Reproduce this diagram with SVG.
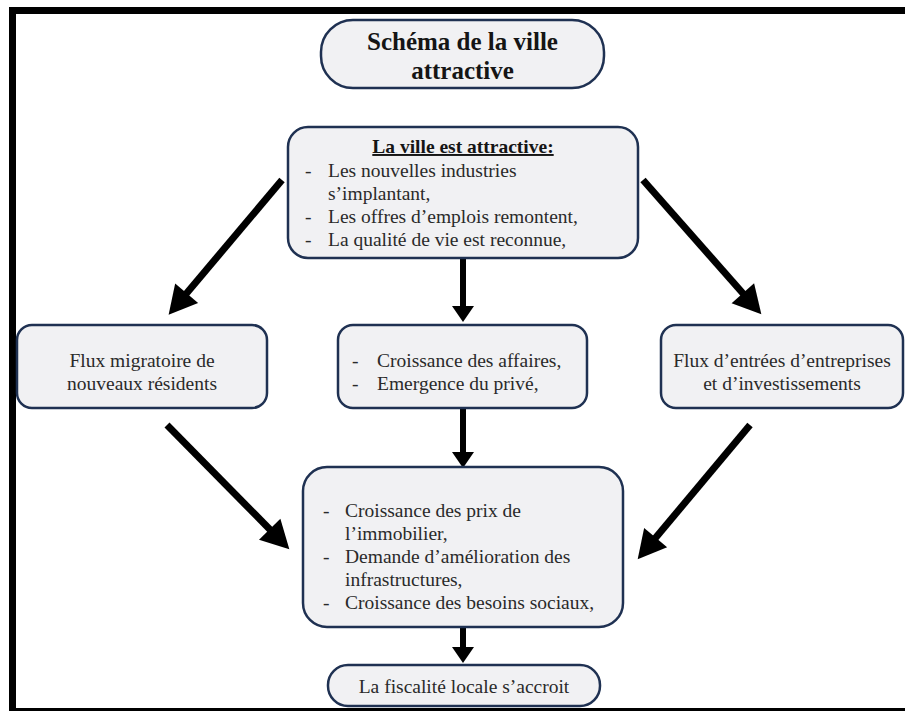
<svg xmlns="http://www.w3.org/2000/svg" width="905" height="711" viewBox="0 0 905 711">
<style>
.box{fill:#f1f1f3;stroke:#1f3152;stroke-width:2.5}
.t{font-family:"Liberation Serif","Times New Roman",serif;font-size:19.5px;fill:#2a2a2a}
.c{text-anchor:middle}
.b{font-weight:bold;fill:#151515}
.u{text-decoration:underline}
.shaft{stroke:#000;stroke-width:7;fill:none}
.vshaft{stroke:#000;stroke-width:6;fill:none}
</style>
<defs>
<marker id="head" markerUnits="userSpaceOnUse" viewBox="0 -15 28 30" markerWidth="28" markerHeight="30" refX="1" refY="0" orient="auto" overflow="visible">
<path d="M0,-15 L28,0 L0,15 Z" fill="#000"/>
</marker>
<marker id="vhead" markerUnits="userSpaceOnUse" viewBox="0 -11 16 22" markerWidth="16" markerHeight="22" refX="1" refY="0" orient="auto" overflow="visible">
<path d="M0,-11 L16,0 L0,11 Z" fill="#000"/>
</marker>
</defs>
<rect x="0" y="0" width="905" height="711" fill="#fff"/>
<g id="frame">
<rect x="9" y="7" width="896" height="7" fill="#000"/>
<rect x="9" y="7" width="7" height="704" fill="#000"/>
<rect x="9" y="708" width="896" height="3" fill="#000"/>
</g>
<g id="connectors">
<line class="shaft" x1="282" y1="180" x2="186" y2="294" marker-end="url(#head)"/>
<line class="shaft" x1="643" y1="180" x2="743.5" y2="294" marker-end="url(#head)"/>
<line class="shaft" x1="167" y1="425" x2="270.4" y2="530" marker-end="url(#head)"/>
<line class="shaft" x1="750" y1="425" x2="655" y2="538.5" marker-end="url(#head)"/>
<line class="vshaft" x1="463" y1="259" x2="463" y2="307" marker-end="url(#vhead)"/>
<line class="vshaft" x1="463" y1="408" x2="463" y2="453" marker-end="url(#vhead)"/>
<line class="vshaft" x1="463" y1="627" x2="463" y2="648" marker-end="url(#vhead)"/>
</g>
<g id="title">
<rect class="box" x="321" y="20" width="283" height="68" rx="32"/>
<text class="t c b" x="462.5" y="50" style="font-size:25px">Schéma de la ville</text>
<text class="t c b" x="462.5" y="79" style="font-size:25px">attractive</text>
</g>
<g id="ville-attractive">
<rect class="box" x="288" y="127" width="350" height="131" rx="20"/>
<text class="t c b u" x="463" y="153">La ville est attractive:</text>
<text class="t" x="305" y="177">-</text><text class="t" x="328" y="177">Les nouvelles industries</text>
<text class="t" x="328" y="200">s’implantant,</text>
<text class="t" x="305" y="223">-</text><text class="t" x="328" y="223">Les offres d’emplois remontent,</text>
<text class="t" x="305" y="246">-</text><text class="t" x="328" y="246">La qualité de vie est reconnue,</text>
</g>
<g id="flux-migratoire">
<rect class="box" x="17" y="325" width="250" height="83" rx="15"/>
<text class="t c" x="142" y="367">Flux migratoire de</text>
<text class="t c" x="142" y="390">nouveaux résidents</text>
</g>
<g id="croissance-affaires">
<rect class="box" x="338" y="325" width="249" height="83" rx="15"/>
<text class="t" x="352" y="367">-</text><text class="t" x="377" y="367">Croissance des affaires,</text>
<text class="t" x="352" y="390">-</text><text class="t" x="377" y="390">Emergence du privé,</text>
</g>
<g id="flux-entreprises">
<rect class="box" x="661" y="325" width="242" height="83" rx="15"/>
<text class="t c" x="782" y="367">Flux d’entrées d’entreprises</text>
<text class="t c" x="782" y="390">et d’investissements</text>
</g>
<g id="consequences">
<rect class="box" x="303" y="467" width="320" height="160" rx="24"/>
<text class="t" x="323" y="517">-</text><text class="t" x="345" y="517">Croissance des prix de</text>
<text class="t" x="345" y="540">l’immobilier,</text>
<text class="t" x="323" y="563">-</text><text class="t" x="345" y="563">Demande d’amélioration des</text>
<text class="t" x="345" y="586">infrastructures,</text>
<text class="t" x="323" y="609">-</text><text class="t" x="345" y="609">Croissance des besoins sociaux,</text>
</g>
<g id="fiscalite">
<rect class="box" x="328" y="665" width="272" height="41" rx="20"/>
<text class="t c" x="464" y="693">La fiscalité locale s’accroit</text>
</g>
</svg>
